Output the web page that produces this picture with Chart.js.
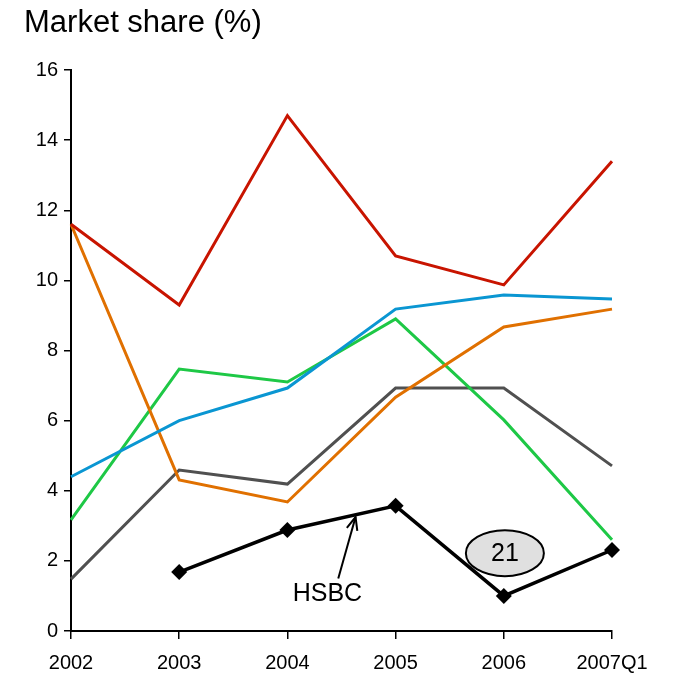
<!DOCTYPE html>
<html>
<head>
<meta charset="utf-8">
<script src="https://cdn.jsdelivr.net/npm/chart.js@4"></script>
<style>
  html, body { margin: 0; padding: 0; background: #fff; }
  #wrap { position: relative; width: 673px; height: 682px; }
  #titulo { position: absolute; left: 24px; top: 4px; font: 31px "Liberation Sans", Arial, sans-serif; color: #000; }
  canvas { position: absolute; left: 0; top: 0; }
</style>
</head>
<body>
<div id="wrap">
  <canvas id="chart" width="673" height="682"></canvas>
  <div id="titulo">Market share (%)</div>
</div>
<script>
// ===== dados =====
const anos   = ['2002', '2003', '2004', '2005', '2006', '2007Q1'];
const vermelho = [11.6, 9.3, 14.7, 10.7, 9.87, 13.4];
const azul     = [4.4, 6.0, 6.93, 9.18, 9.58, 9.47];
const laranja  = [11.6, 4.31, 3.68, 6.67, 8.67, 9.18];
const verde    = [3.17, 7.47, 7.1, 8.9, 6.02, 2.6];
const cinza    = [1.48, 4.59, 4.19, 6.93, 6.93, 4.71];
const hsbc     = [null, 1.68, 2.88, 3.57, 1.0, 2.31];
const yTicks   = [0, 2, 4, 6, 8, 10, 12, 14, 16];

const FONTE = '"Liberation Sans", Arial, sans-serif';

function serie(data, cor, extra) {
  return Object.assign({
    data, borderColor: cor, backgroundColor: cor,
    borderWidth: 3, pointRadius: 0, tension: 0, fill: false
  }, extra || {});
}

// anotacoes: texto HSBC com seta e elipse "21"
const anotacoes = {
  id: 'anotacoes',
  afterDatasetsDraw(chart) {
    const { ctx, scales: { x, y } } = chart;
    ctx.save();
    ctx.fillStyle = '#000';
    ctx.font = '25px ' + FONTE;
    ctx.textAlign = 'center';
    ctx.textBaseline = 'middle';
    ctx.fillText('HSBC', x.getPixelForValue(2.37), y.getPixelForValue(1.06));

    // seta
    const x0 = x.getPixelForValue(2.47), y0 = y.getPixelForValue(1.5);
    const x1 = x.getPixelForValue(2.63), y1 = y.getPixelForValue(3.25);
    ctx.strokeStyle = '#000';
    ctx.lineWidth = 2;
    ctx.beginPath(); ctx.moveTo(x0, y0); ctx.lineTo(x1, y1); ctx.stroke();
    const ang = Math.atan2(y1 - y0, x1 - x0);
    ctx.beginPath();
    ctx.moveTo(x1 - 14 * Math.cos(ang - 0.4), y1 - 14 * Math.sin(ang - 0.4));
    ctx.lineTo(x1, y1);
    ctx.lineTo(x1 - 14 * Math.cos(ang + 0.4), y1 - 14 * Math.sin(ang + 0.4));
    ctx.stroke();

    // elipse
    const cx = x.getPixelForValue(4.01), cy = y.getPixelForValue(2.22);
    ctx.beginPath();
    ctx.ellipse(cx, cy, 39, 23, 0, 0, Math.PI * 2);
    ctx.fillStyle = '#e0e0e0';
    ctx.fill();
    ctx.lineWidth = 2;
    ctx.stroke();
    ctx.fillStyle = '#000';
    ctx.font = '25px ' + FONTE;
    ctx.fillText('21', cx, cy + 1);
    ctx.restore();
  }
};

new Chart(document.getElementById('chart'), {
  type: 'line',
  data: {
    labels: anos,
    datasets: [
      serie(vermelho, '#c81400'),
      serie(azul, '#0a96d2'),
      serie(laranja, '#e07000'),
      serie(verde, '#1ec846'),
      serie(cinza, '#505050'),
      serie(hsbc, '#000', { borderWidth: 3.5, pointRadius: 8, pointStyle: 'rectRot', pointBackgroundColor: '#000', pointBorderWidth: 0 })
    ]
  },
  options: {
    responsive: false, animation: false,
    layout: { padding: { top: 70, right: 61, left: 0, bottom: 0 } },
    plugins: { legend: { display: false }, tooltip: { enabled: false }, title: { display: false } },
    scales: {
      x: {
        offset: false,
        grid: { display: true, drawOnChartArea: false, drawTicks: true, tickLength: 8, color: '#000', lineWidth: 1.5 },
        border: { color: '#000', width: 2 },
        ticks: { color: '#000', font: { family: FONTE, size: 20 }, padding: 12, maxRotation: 0, autoSkip: false },
        afterFit(s) { s.height = 51; }
      },
      y: {
        min: 0, max: 16,
        afterBuildTicks(s) { s.ticks = yTicks.map(v => ({ value: v })); },
        grid: { display: true, drawOnChartArea: false, drawTicks: true, tickLength: 7, color: '#000', lineWidth: 1.5 },
        border: { color: '#000', width: 2 },
        ticks: { color: '#000', font: { family: FONTE, size: 20 }, padding: 6 },
        afterFit(s) { s.width = 71; }
      }
    }
  },
  plugins: [anotacoes]
});
</script>
</body>
</html>
